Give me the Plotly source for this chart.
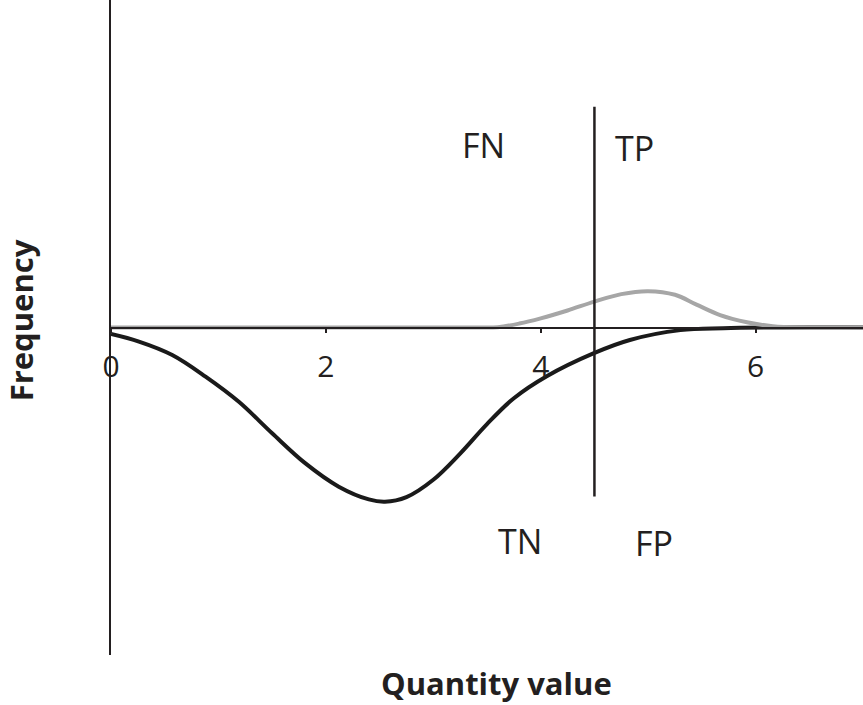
import plotly.graph_objects as go

# negative population (drawn below the axis)
neg_x = [0, 0.26, 0.57, 0.88, 1.19, 1.50, 1.81, 2.12, 2.40, 2.55, 2.75, 3.00,
         3.25, 3.50, 3.75, 4.06, 4.49, 4.83, 5.30, 5.70, 6.20, 7.0]
neg_y = [-0.020, -0.043, -0.084, -0.150, -0.227, -0.323, -0.415, -0.486, -0.525,
         -0.532, -0.518, -0.465, -0.385, -0.295, -0.216, -0.148, -0.079, -0.038,
         -0.008, -0.002, 0, 0]

# positive population (drawn above the axis)
pos_x = [0, 3.40, 3.60, 3.80, 4.00, 4.25, 4.50, 4.75, 5.00, 5.25, 5.45, 5.67,
         5.92, 6.16, 6.41, 7.0]
pos_y = [0, 0, 0.001, 0.012, 0.028, 0.052, 0.079, 0.102, 0.111, 0.100, 0.070,
         0.038, 0.016, 0.004, 0, 0]

# decision threshold
cut_x = 4.5
cut_top = 0.674
cut_bottom = -0.516

# quadrant labels
quad_text = ["FN", "TP", "TN", "FP"]
quad_x = [3.47, 4.87, 3.81, 5.05]
quad_y = [0.557, 0.548, -0.652, -0.658]

tick_vals = [0, 2, 4, 6]
ink = "#231f20"
font = "Open Sans"

fig = go.Figure()
fig.add_trace(go.Scatter(x=neg_x, y=neg_y, mode="lines",
                         line=dict(color="#1a1a1a", width=4, shape="spline")))
fig.add_trace(go.Scatter(x=pos_x, y=pos_y, mode="lines",
                         line=dict(color="#a6a6a6", width=4, shape="spline")))
fig.add_trace(go.Scatter(x=[cut_x, cut_x], y=[cut_top, cut_bottom], mode="lines",
                         line=dict(color=ink, width=2.5)))

for t, x, y in zip(quad_text, quad_x, quad_y):
    fig.add_annotation(x=x, y=y, text=t, showarrow=False,
                       font=dict(family=font, size=34, color=ink))

fig.add_annotation(xref="paper", yref="paper", x=0.513, y=0, yshift=-28,
                   yanchor="middle", xanchor="center",
                   text="<b>Quantity value</b>", showarrow=False,
                   font=dict(family=font, size=31, color=ink))
fig.add_annotation(xref="paper", yref="paper", x=0, xshift=-90, y=0.511,
                   yanchor="middle", xanchor="center",
                   text="<b>Frequency</b>", textangle=-90, showarrow=False,
                   font=dict(family=font, size=31, color=ink))

fig.update_layout(
    width=863, height=705,
    margin=dict(l=111, r=0, t=0, b=50),
    paper_bgcolor="white", plot_bgcolor="white",
    showlegend=False,
)
fig.update_xaxes(
    range=[0, 7], tickvals=tick_vals, ticks="outside", ticklen=5, tickwidth=1.5,
    tickcolor=ink, showline=True, linecolor=ink, linewidth=1.5,
    showgrid=False, zeroline=False, anchor="free", position=0.5,
    tickfont=dict(family=font, size=30, color=ink), ticklabelstandoff=8,
)
fig.update_yaxes(
    range=[-1, 1], showticklabels=False, ticks="", showline=True,
    linecolor=ink, linewidth=1.5, showgrid=False, zeroline=False,
)
# page body has a default 8px margin; drop it so the chart fills the window
fig.write_html("out.html", config={"displayModeBar": False},
               post_script="document.body.style.margin='0';")
